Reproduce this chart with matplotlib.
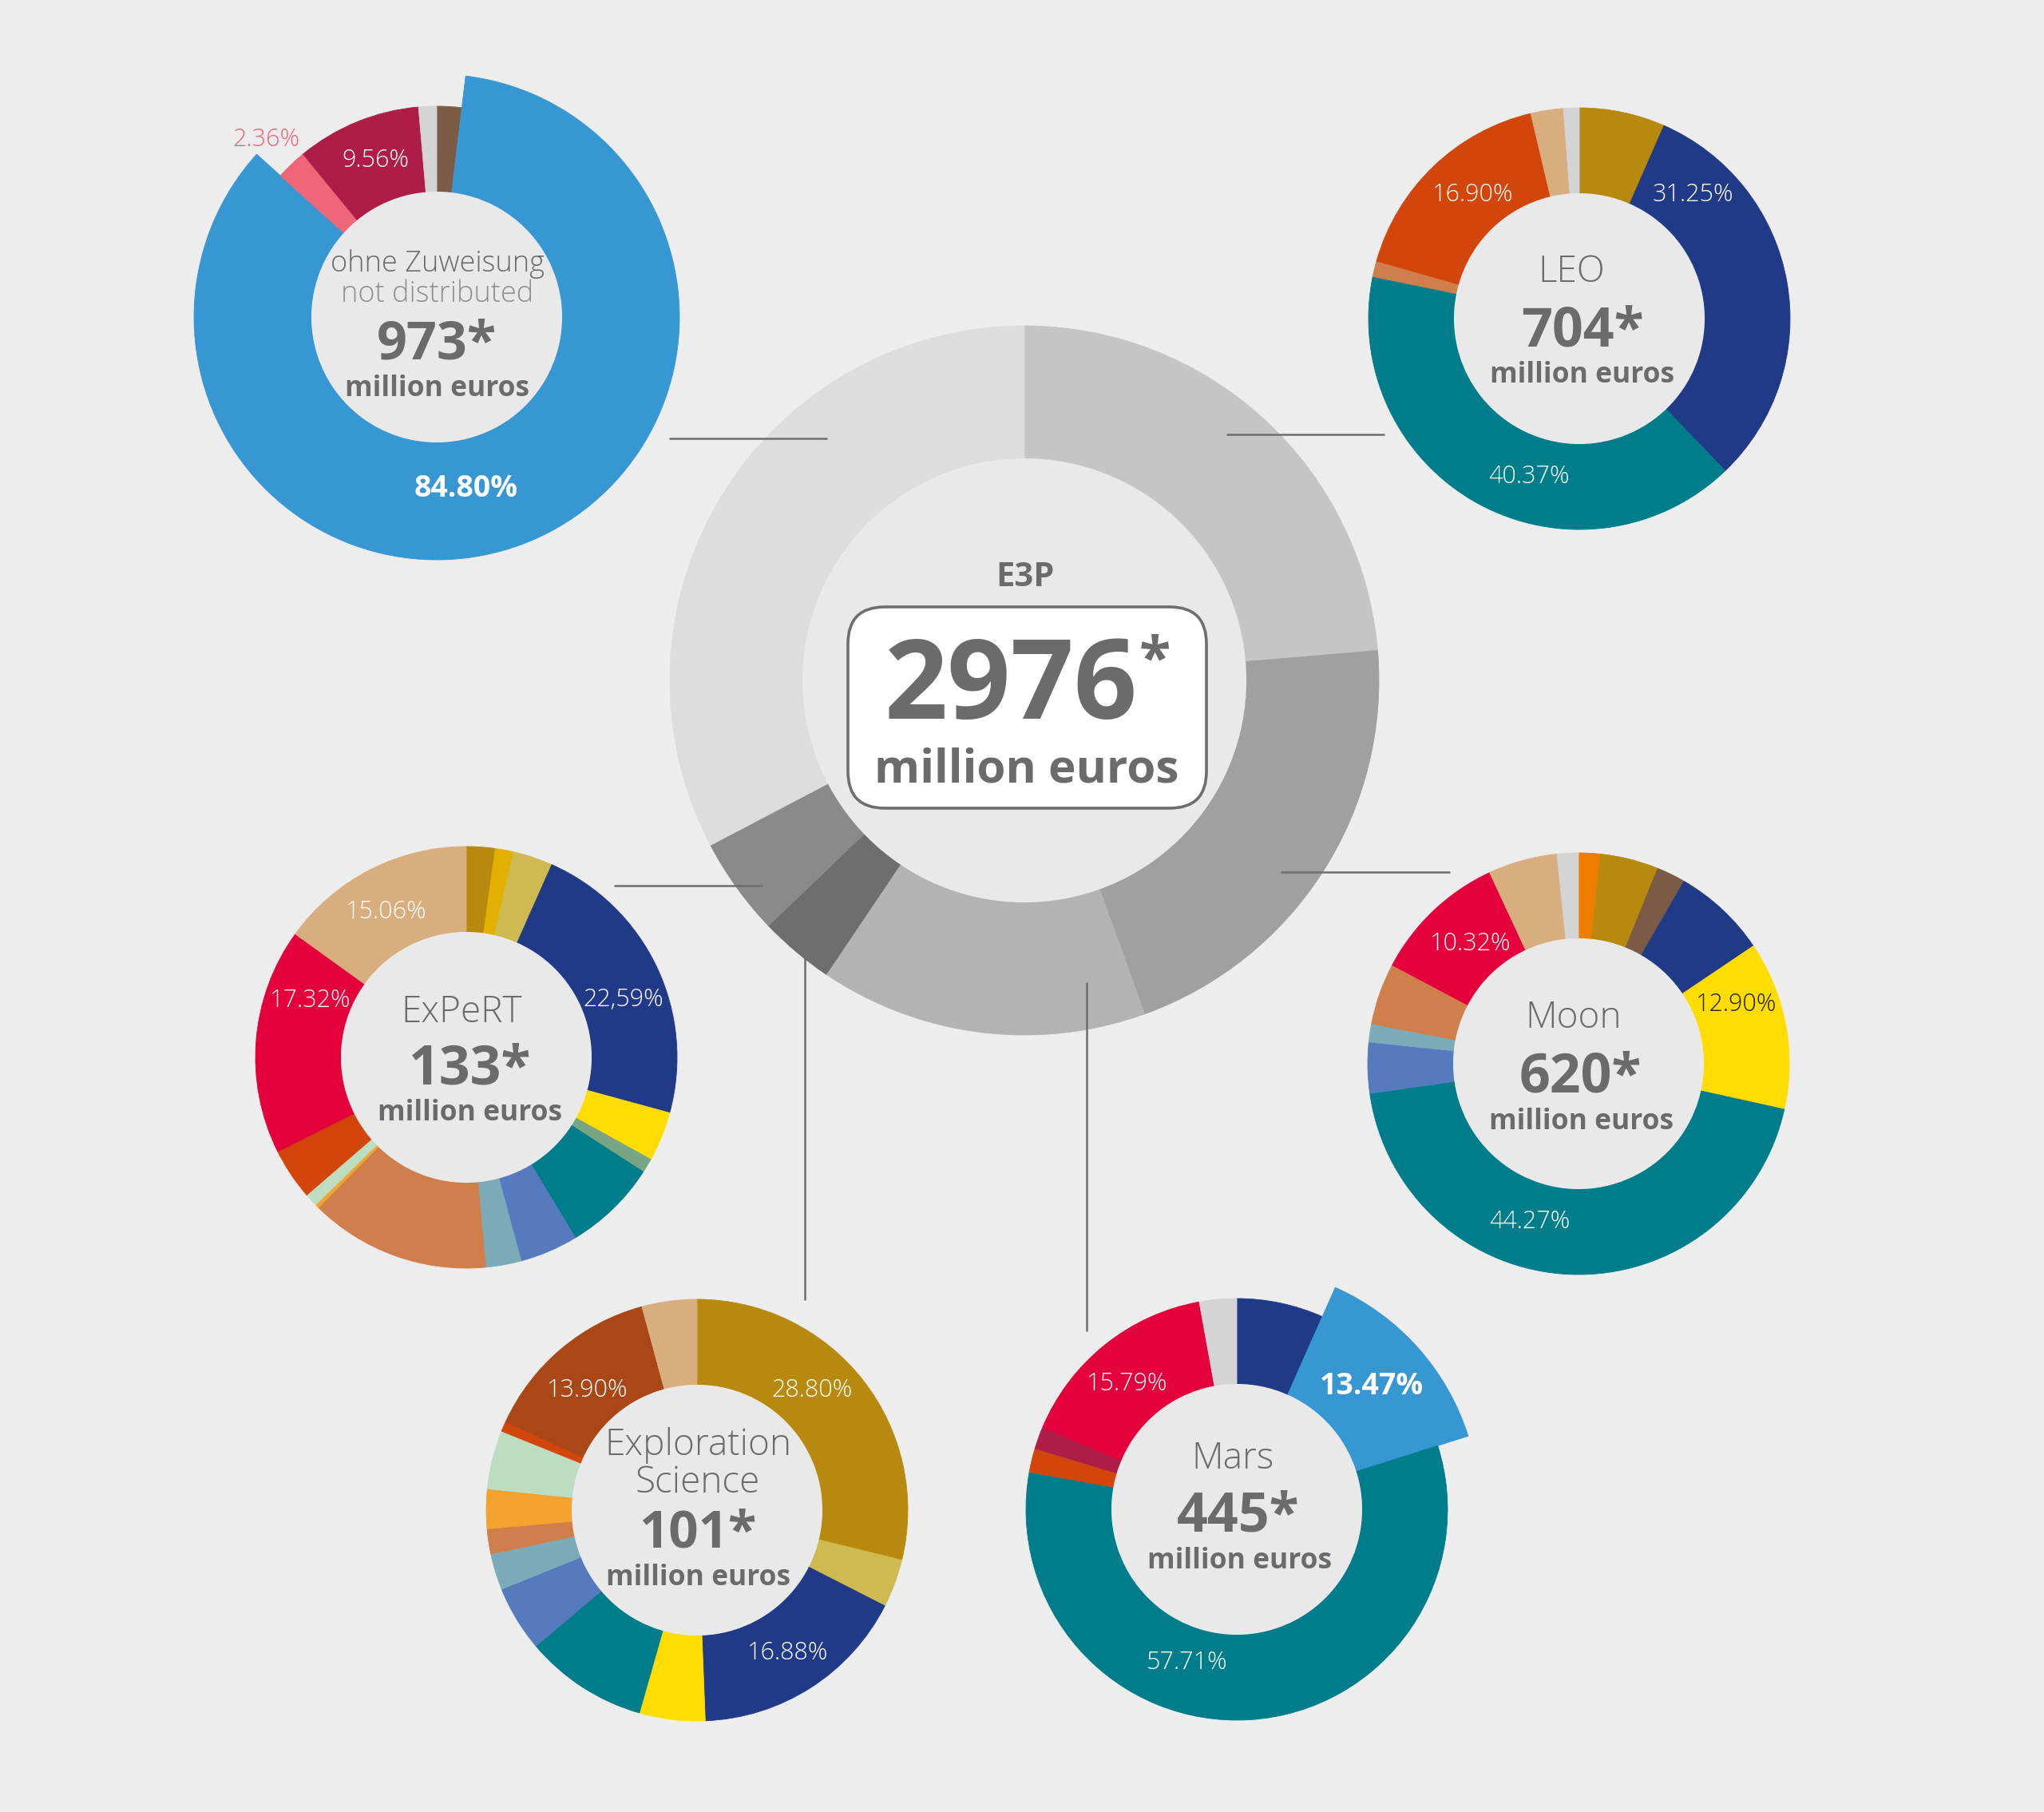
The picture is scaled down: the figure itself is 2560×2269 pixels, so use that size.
import matplotlib
matplotlib.use("Agg")
import matplotlib.pyplot as plt
from matplotlib.patches import Circle, FancyBboxPatch

plt.rcParams['font.family'] = ['Open Sans', 'DejaVu Sans']

W, H = 2560, 2269

# ---- data (shares in percent, clockwise from 12 o'clock) ----
e3p_names = ['LEO', 'Moon', 'Mars', 'Exploration Science', 'ExPeRT', 'ohne Zuweisung']
e3p_values = [704, 620, 445, 101, 133, 973]

ohne_values = [1.90, 84.80, 2.36, 9.56, 1.38]
leo_values = [6.58, 31.25, 40.37, 1.20, 16.90, 2.50, 1.20]
moon_values = [1.65, 4.48, 2.22, 7.22, 12.90, 44.27, 3.90, 1.39, 4.72, 10.32, 5.30, 1.63]
expert_values = [2.20, 1.40, 3.05, 22.59, 3.80, 1.10, 7.20, 4.47, 2.72, 13.84, 0.30, 1.00,
                 3.95, 17.32, 15.06]
explsci_values = [28.80, 3.70, 16.88, 5.03, 9.44, 5.03, 2.78, 1.92, 3.03, 4.50, 0.78,
                  13.90, 4.21]
mars_values = [6.65, 13.47, 57.71, 1.83, 1.70, 15.79, 2.85]

ohne_labels = ['2.36%', '9.56%', '84.80%']
leo_labels = ['31.25%', '16.90%', '40.37%']
moon_labels = ['12.90%', '10.32%', '44.27%']
expert_labels = ['15.06%', '17.32%', '22,59%']
explsci_labels = ['28.80%', '13.90%', '16.88%']
mars_labels = ['13.47%', '15.79%', '57.71%']

# ---- colours ----
BG = '#EDEDED'
INNER = '#E9E9E9'
TXT = '#6B6B6B'
GOLD = '#B8890F'
NAVY = '#213A87'
TEAL = '#007D8A'
LORANGE = '#D07F4C'
ORED = '#D2460B'
TAN = '#D9AE7E'
LGRAY = '#D4D4D4'
BROWN = '#7B5B45'
YELLOW = '#FFDD00'
ORANGE = '#EF7D00'
MBLUE = '#557ABD'
TEALGRAY = '#7BABB8'
RED = '#E4003A'
CRIMSON = '#AD1D47'
PINK = '#EE6677'
SKY = '#3797D3'
GOLDY = '#E2B000'
OLIVE = '#CEBA50'
SAGE = '#78A583'
AMBER = '#F4A32F'
MINT = '#BDDDC1'
RUST = '#A94717'

e3p_colors = ['#C5C5C5', '#A0A0A0', '#B3B3B3', '#6E6E6E', '#8A8A8A', '#DDDDDD']
ohne_colors = [BROWN, SKY, PINK, CRIMSON, LGRAY]
leo_colors = [GOLD, NAVY, TEAL, LORANGE, ORED, TAN, LGRAY]
moon_colors = [ORANGE, GOLD, BROWN, NAVY, YELLOW, TEAL, MBLUE, TEALGRAY, LORANGE, RED, TAN, LGRAY]
expert_colors = [GOLD, GOLDY, OLIVE, NAVY, YELLOW, SAGE, TEAL, MBLUE, TEALGRAY, LORANGE, AMBER,
                 MINT, ORED, RED, TAN]
explsci_colors = [GOLD, OLIVE, NAVY, YELLOW, TEAL, MBLUE, TEALGRAY, LORANGE, AMBER, MINT, ORED,
                  RUST, TAN]
mars_colors = [NAVY, SKY, TEAL, ORED, CRIMSON, RED, LGRAY]

fig = plt.figure(figsize=(W / 100, H / 100), dpi=100, facecolor=BG)
ax = fig.add_axes([0, 0, 1, 1])
ax.set_facecolor(BG)


def donut(cx, cy, values, colors, r_out=264, r_in=157, pop=None, r_pop=304):
    wedges, _ = ax.pie(values, colors=colors, center=(cx, H - cy), radius=r_out,
                       startangle=90, counterclock=False,
                       wedgeprops=dict(width=r_out - r_in, linewidth=0))
    for w in wedges:
        w.set_edgecolor(w.get_facecolor())
        w.set_linewidth(0.6)
    if pop is not None:
        wedges[pop].set_radius(r_pop)
        wedges[pop].set_width(r_pop - r_in)
    ax.add_patch(Circle((cx, H - cy), r_in, facecolor=INNER, edgecolor='none', zorder=1))


def txt(x, y, s, size, weight='normal', color=TXT):
    ax.text(x, H - y, s, fontsize=size, fontweight=weight, color=color,
            ha='center', va='baseline', zorder=5)


def pct(x, y, s, color='white', size=22, weight='light'):
    # y = visual centre of the digits
    txt(x, y + 0.5 * size, s, size, weight, color)


# central ring
donut(1283, 852, e3p_values, e3p_colors, r_out=444, r_in=278)

# satellites
donut(547, 397, ohne_values, ohne_colors, pop=1)
donut(1978, 399, leo_values, leo_colors)
donut(1977, 1332, moon_values, moon_colors)
donut(584, 1324, expert_values, expert_colors)
donut(873, 1891, explsci_values, explsci_colors)
donut(1549, 1890, mars_values, mars_colors, pop=1)

# connector lines
for xs, ys in [((838, 1036), (549, 549)), ((1536, 1734), (544, 544)),
               ((1604, 1816), (1092, 1092)), ((769, 955), (1109, 1109)),
               ((1008, 1008), (1164, 1628)), ((1361, 1361), (1230, 1667))]:
    ax.plot(xs, [H - y for y in ys], color='#6E6E6E', lw=1.8, zorder=3,
            solid_capstyle='butt')

# central box
ax.add_patch(FancyBboxPatch((1062, H - 1012), 449, 252,
                            boxstyle='round,pad=0,rounding_size=46',
                            facecolor='white', edgecolor='#6E6E6E', lw=2.6, zorder=4))
txt(1284, 734, 'E3P', 30, 'bold')
txt(1266, 900, '2976', 100, 'bold')
txt(1446, 848, '*', 52, 'bold')
txt(1286, 979, 'million euros', 42, 'bold')

# centre texts of satellites
txt(548, 340, 'ohne Zuweisung', 26, 'light')
txt(548, 378, 'not distributed', 26, 'light', '#8F8F8F')
txt(547, 449, '973*', 48, 'bold')
txt(548, 496, 'million euros', 25.5, 'bold')

txt(1968, 353, 'LEO', 33, 'light')
txt(1982, 433, '704*', 49, 'bold')
txt(1982, 479, 'million euros', 25.5, 'bold')

txt(1971, 1287, 'Moon', 33, 'light')
txt(1979, 1367, '620*', 49, 'bold')
txt(1981, 1414, 'million euros', 25.5, 'bold')

txt(578, 1280, 'ExPeRT', 33, 'light')
txt(589, 1358, '133*', 49, 'bold')
txt(589, 1403, 'million euros', 25.5, 'bold')

txt(874, 1822, 'Exploration', 33, 'light')
txt(874, 1869, 'Science', 33, 'light')
txt(874, 1938, '101*', 47, 'bold')
txt(875, 1985, 'million euros', 25.5, 'bold')

txt(1544, 1839, 'Mars', 33, 'light')
txt(1551, 1918, '445*', 49, 'bold')
txt(1553, 1964, 'million euros', 25.5, 'bold')

# percentage labels
pct(333, 172, ohne_labels[0], PINK)
pct(470, 198, ohne_labels[1])
pct(584, 609, ohne_labels[2], size=27, weight='bold')

pct(2120, 241, leo_labels[0])
pct(1845, 241, leo_labels[1])
pct(1915, 594, leo_labels[2])

pct(2175, 1255, moon_labels[0], '#1E1E1E')
pct(1842, 1179, moon_labels[1])
pct(1916, 1527, moon_labels[2])

pct(484, 1139, expert_labels[0])
pct(389, 1250, expert_labels[1])
pct(781, 1249, expert_labels[2])

pct(1017, 1738, explsci_labels[0])
pct(736, 1738, explsci_labels[1])
pct(987, 2067, explsci_labels[2])

pct(1718, 1733, mars_labels[0], size=27, weight='bold')
pct(1412, 1730, mars_labels[1])
pct(1487, 2079, mars_labels[2])

ax.set_xlim(0, W)
ax.set_ylim(0, H)
ax.set_aspect('equal')
ax.axis('off')

fig.savefig('out.png', dpi=100, facecolor=BG)
